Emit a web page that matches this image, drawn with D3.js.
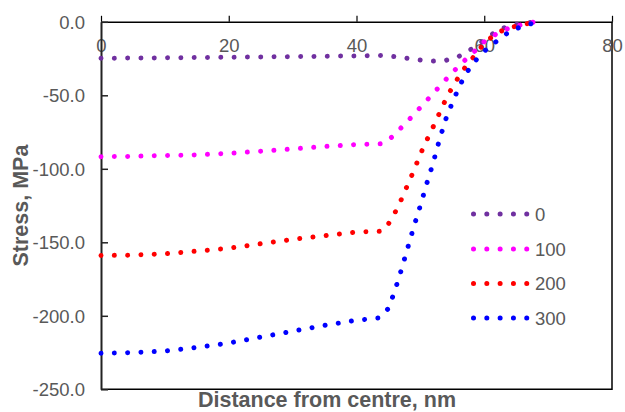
<!DOCTYPE html>
<html>
<head>
<meta charset="utf-8">
<script src="https://cdn.jsdelivr.net/npm/d3@7"></script>
<style>
  html, body { margin: 0; padding: 0; background: #fff; }
  svg { display: block; }
  text { font-family: "Liberation Sans", Arial, sans-serif; fill: #595959; }
</style>
</head>
<body>
<svg id="chart" width="625" height="412"></svg>
<script>
// Radial stress profiles for four conditions
const seriesNames = ["0", "100", "200", "300"];
const seriesColors = ["#7030A0", "#FF00FF", "#FF0000", "#0000FF"];

const stress0 = [
  [0, -24.8], [10, -24.5], [20, -24.1], [30, -23.7], [40, -23.2], [44, -22.9],
  [46, -23.7], [48, -24.8], [50, -26], [52, -26.7], [54, -26.2], [56, -23.6],
  [58, -18.5], [60, -12.5], [62, -6], [64, -2.5], [66, -1], [68, 0]
];
const stress100 = [
  [0, -91.8], [5, -91.5], [10, -91], [15, -90.5], [20, -89.5], [25, -88],
  [30, -86.5], [35, -84.8], [40, -83.5], [44, -83], [45.5, -78.5], [47, -72],
  [49, -63], [51, -53.5], [53, -44], [55, -34.5], [57, -26], [58.5, -20],
  [60, -13.5], [62, -8], [64, -4], [66, -1.8], [68, 0]
];
const stress200 = [
  [0, -159], [5, -158.7], [10, -157.8], [15, -156], [20, -154], [25, -151],
  [30, -148], [35, -145.5], [40, -143], [44, -142.5], [45, -137.5], [46, -130],
  [47, -121], [48, -111], [49, -101], [50, -90], [51, -80.5], [52, -71.5],
  [53, -62], [54, -52.5], [55, -44.5], [56, -37.5], [57, -31], [58.5, -23],
  [60, -14.5], [62, -7.5], [64, -4], [66, -2], [68, 0]
];
const stress300 = [
  [0, -225.5], [5, -225], [10, -224], [15, -221.5], [20, -218.5], [25, -214.5],
  [30, -210.5], [35, -206.5], [40, -203], [43.5, -201.5], [45, -195], [46, -183],
  [47, -169], [48, -154], [49, -139], [50, -125], [51, -110], [52, -96],
  [53, -80], [54, -66], [55, -55], [56, -45], [57, -36], [58.5, -27],
  [60, -20], [62, -13], [64, -6.5], [66, -3], [68, -0.5], [68.5, 0]
];
const seriesData = [stress0, stress100, stress200, stress300];

const xTicks = [0, 20, 40, 60, 80];
const yTicks = [0, -50, -100, -150, -200, -250];

const svg = d3.select("#chart");
const plotLeft = 101, plotRight = 612, plotTop = 21.8, plotBottom = 389.3;

const x = d3.scaleLinear().domain([0, 80]).range([plotLeft, plotRight]);
const y = d3.scaleLinear().domain([-250, 0]).range([plotBottom, plotTop]);

// Plot frame (right and bottom edges)
svg.append("path")
  .attr("d", `M${plotRight},${plotTop}V${plotBottom}H${plotLeft}`)
  .attr("fill", "none").attr("stroke", "#000").attr("stroke-width", 1.5);

// Top x axis: ticks point outward, labels sit just inside the plot
const gx = svg.append("g")
  .attr("transform", `translate(0,${plotTop})`)
  .call(d3.axisTop(x).tickValues(xTicks).tickSize(6).tickSizeOuter(0).tickFormat(d3.format("d")));
gx.select(".domain").attr("stroke", "#000").attr("stroke-width", 1.5);
gx.selectAll(".tick line").attr("stroke", "#000").attr("stroke-width", 1.2);
gx.selectAll(".tick text")
  .attr("y", 30).attr("dy", 0)
  .style("font-size", "18.5px").style("font-family", "'Liberation Sans', Arial, sans-serif")
  .attr("fill", "#595959");

// Left y axis: ticks point inward
const gy = svg.append("g")
  .attr("transform", `translate(${plotLeft},0)`)
  .call(d3.axisLeft(y).tickValues(yTicks).tickSize(-7).tickSizeOuter(0).tickPadding(16)
    .tickFormat(d => d.toFixed(1)));
gy.select(".domain").attr("stroke", "#222").attr("stroke-width", 2);
gy.selectAll(".tick line").attr("stroke", "#222").attr("stroke-width", 1.5);
gy.selectAll(".tick text")
  .attr("dy", "0.36em")
  .style("font-size", "18.5px").style("font-family", "'Liberation Sans', Arial, sans-serif")
  .attr("fill", "#595959");

// Round-dot series lines
const line = d3.line().x(d => x(d[0])).y(d => y(d[1]));
seriesData.forEach((data, i) => {
  svg.append("path")
    .datum(data)
    .attr("d", line)
    .attr("fill", "none")
    .attr("stroke", seriesColors[i])
    .attr("stroke-width", 5)
    .attr("stroke-linecap", "round")
    .attr("stroke-dasharray", "0.01 13.3");
});

// Legend
const legendY = [214, 249, 283.5, 318];
seriesNames.forEach((name, i) => {
  const g = svg.append("g");
  g.append("line")
    .attr("x1", 473.5).attr("x2", 528).attr("y1", legendY[i]).attr("y2", legendY[i])
    .attr("stroke", seriesColors[i])
    .attr("stroke-width", 5)
    .attr("stroke-linecap", "round")
    .attr("stroke-dasharray", "0.01 13.3");
  g.append("text")
    .attr("x", 535).attr("y", legendY[i]).attr("dy", "0.36em")
    .style("font-size", "18.5px")
    .text(name);
});

// Axis titles
svg.append("text")
  .attr("x", 327).attr("y", 407)
  .attr("text-anchor", "middle")
  .style("font-size", "21.5px").style("font-weight", "bold")
  .text("Distance from centre, nm");

svg.append("text")
  .attr("transform", `translate(28,${(plotTop + plotBottom) / 2}) rotate(-90)`)
  .attr("text-anchor", "middle")
  .style("font-size", "21.5px").style("font-weight", "bold")
  .text("Stress, MPa");
</script>
</body>
</html>
